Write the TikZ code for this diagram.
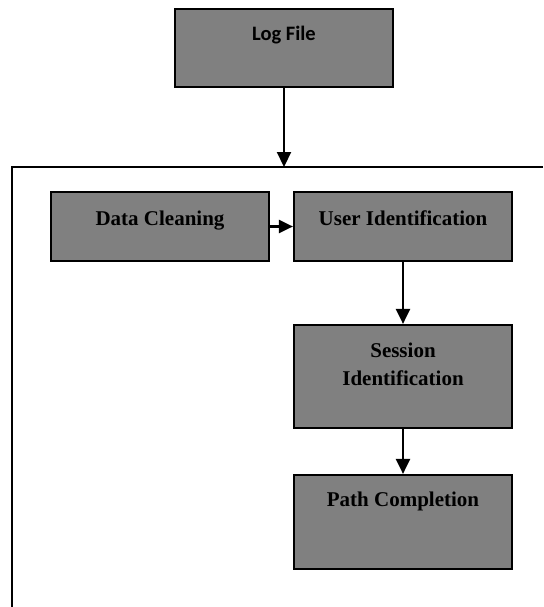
\documentclass[tikz,border=0pt]{standalone}
\usepackage{fontspec}
\setmainfont{Liberation Serif}
\newfontfamily\carlitofont{Carlito}
\usetikzlibrary{arrows.meta}

\tikzset{
  box/.style={draw=black, line width=2.2pt, fill=boxgray, inner sep=0pt,
              minimum width=218pt},
  lbl/.style={font=\bfseries\fontsize{21}{28}\selectfont, inner sep=0pt, anchor=base},
  lblsans/.style={font=\carlitofont\bfseries\fontsize{20.5}{26}\selectfont, inner sep=0pt, anchor=base},
  flow/.style={line width=2.2pt, -{Triangle[length=15pt,width=14pt]}},
  frame/.style={line width=2pt},
}
\definecolor{boxgray}{HTML}{808080}

\begin{document}
\begin{tikzpicture}[x=1pt,y=-1pt]
  \useasboundingbox (0,0) rectangle (543,607);

  % enclosing frame: top rule and left rule
  \coordinate (ftl) at (12,167);
  \coordinate (ftr) at (543,167);
  \coordinate (fbl) at (12,607);
  \draw[frame] (ftr) -- (ftl) -- (fbl);

  % input box
  \node[box, minimum height=78pt] (log) at (284,48) {};
  \node[lblsans] (logt) at (284,41) {Log File};

  % processing stages
  \node[box, minimum height=69pt] (dc) at (160,226.5) {};
  \node[lbl] (dct) at (160,225) {Data Cleaning};

  \node[box, minimum height=69pt] (uid) at (403,226.5) {};
  \node[lbl] (uidt) at (403,225) {User Identification};

  \node[box, minimum height=103pt] (sid) at (403,376.5) {};
  \node[lbl] (sidt1) at (403,357) {Session};
  \node[lbl] (sidt2) at (403,385) {Identification};

  \node[box, minimum height=94pt] (pc) at (403,522) {};
  \node[lbl] (pct) at (403,506) {Path Completion};

  % connectors
  \coordinate (ft) at (284,167);
  \draw[flow] (log.south) -- (ft);
  \draw[flow, -{Triangle[length=14pt,width=13pt]}] (dc.east) -- (uid.west);
  \draw[flow] (uid.south) -- (sid.north);
  \draw[flow] (sid.south) -- (pc.north);
\end{tikzpicture}
\end{document}
